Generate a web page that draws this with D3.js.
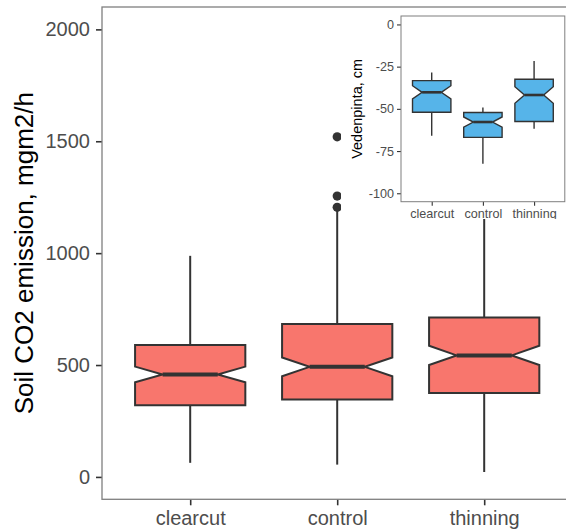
<html>
<head>
  <meta charset="utf-8">
  <style>
  body { margin: 0; background: #fff; }
  svg text { font-family: "Liberation Sans", Arial, Helvetica, sans-serif; }
  </style>
  <script src="https://d3js.org/d3.v7.min.js"></script>
</head>
<body>
  <svg id="chart"></svg>
</body>
  <script>

  var categories = ["clearcut", "control", "thinning"];

  // soil CO2 emission boxplot stats, mgm2/h
  var emLow = [63, 55, 22],
      emQ1 = [320, 346, 375],
      emMed = [458, 492, 543],
      emQ3 = [590, 683, 712],
      emHigh = [988, 1195, 1250],
      emNotch = [35, 42, 43];
  var emOutliers = [[], [1205, 1255, 1520], []];
  var emTicks = [0, 500, 1000, 1500, 2000];

  // water table (vedenpinta) boxplot stats, cm
  var wtLow = [-65.9, -82.5, -61.8],
      wtQ1 = [-52, -66.9, -57.5],
      wtMed = [-40.2, -57.8, -41.8],
      wtQ3 = [-33.3, -52.2, -32.5],
      wtHigh = [-28.4, -49.2, -21.6],
      wtNotch = [3.9, 3, 4.9];
  var wtTicks = [0, -25, -50, -75, -100];

  var width = 566,
      height = 531;

  var svg = d3.select("#chart")
      .attr("width", width)
      .attr("height", height);

  function boxes(g, x, y, st, opt) {
    var bw = x.step() * 0.75;
    var rows = categories.map(function(c, i) {
      return {c: c, lo: st.lo[i], q1: st.q1[i], med: st.med[i], q3: st.q3[i],
              hi: st.hi[i], n: st.notch[i], out: st.out ? st.out[i] : []};
    });
    var grp = g.selectAll("g.box").data(rows).enter().append("g").attr("class", "box");
    grp.append("line")
        .attr("x1", function(d) { return x(d.c); })
        .attr("x2", function(d) { return x(d.c); })
        .attr("y1", function(d) { return y(d.lo); })
        .attr("y2", function(d) { return y(d.hi); })
        .attr("stroke", "#333").attr("stroke-width", opt.lw);
    grp.append("path")
        .attr("d", function(d) {
          var x0 = x(d.c) - bw / 2, x1 = x(d.c) + bw / 2, ni = bw / 4;
          var p = [[x0, y(d.q3)], [x1, y(d.q3)], [x1, y(d.med + d.n)], [x1 - ni, y(d.med)],
                   [x1, y(d.med - d.n)], [x1, y(d.q1)], [x0, y(d.q1)], [x0, y(d.med - d.n)],
                   [x0 + ni, y(d.med)], [x0, y(d.med + d.n)]];
          return "M" + p.join("L") + "Z";
        })
        .attr("fill", opt.fill).attr("stroke", "#333").attr("stroke-width", opt.lw)
        .attr("stroke-linejoin", "miter");
    grp.append("line")
        .attr("x1", function(d) { return x(d.c) - bw / 4; })
        .attr("x2", function(d) { return x(d.c) + bw / 4; })
        .attr("y1", function(d) { return y(d.med); })
        .attr("y2", function(d) { return y(d.med); })
        .attr("stroke", "#333").attr("stroke-width", opt.mw);
    grp.selectAll("circle").data(function(d) { return d.out.map(function(v) { return {c: d.c, v: v}; }); })
      .enter().append("circle")
        .attr("cx", function(d) { return x(d.c); })
        .attr("cy", function(d) { return y(d.v); })
        .attr("r", opt.r).attr("fill", "#333");
  }

  function axes(g, x, y, ticks, box, opt) {
    var ya = g.append("g").attr("transform", "translate(" + box.l + ",0)")
        .call(d3.axisLeft(y).tickValues(ticks).tickFormat(function(d) { return String(d); })
          .tickSize(opt.tick).tickPadding(opt.pad));
    var xa = g.append("g").attr("transform", "translate(0," + box.b + ")")
        .call(d3.axisBottom(x).tickSize(opt.tick).tickPadding(opt.pad));
    [ya, xa].forEach(function(a) {
      a.select(".domain").remove();
      a.selectAll("line").attr("stroke", "#333").attr("stroke-width", opt.tw);
      a.selectAll("text").attr("fill", "#4d4d4d").style("font-size", opt.fs + "px")
        .style("font-family", "'Liberation Sans', Arial, sans-serif");
    });
    g.append("rect")
        .attr("x", box.l).attr("y", box.t)
        .attr("width", box.r - box.l).attr("height", box.b - box.t)
        .attr("fill", "none").attr("stroke", "#7f7f7f").attr("stroke-width", opt.bw);
  }

  // main panel
  var P = {l: 102, t: 7, r: 572.4, b: 499.3};
  var x = d3.scalePoint().domain(categories).range([P.l, P.r]).padding(0.6);
  var y = d3.scaleLinear().domain([-100, 2100]).range([P.b, P.t]);

  var main = svg.append("g");
  boxes(main, x, y, {lo: emLow, q1: emQ1, med: emMed, q3: emQ3, hi: emHigh, notch: emNotch, out: emOutliers},
        {fill: "#F8766D", lw: 2, mw: 4, r: 4.6});
  axes(main, x, y, emTicks, P, {tick: 6, pad: 6, tw: 1.6, fs: 20, bw: 1.3});

  main.append("text")
      .attr("transform", "translate(33," + ((P.t + P.b) / 2) + ") rotate(-90)")
      .attr("text-anchor", "middle")
      .style("font-size", "26px")
      .attr("fill", "#000")
      .text("Soil CO2 emission, mgm2/h");

  // inset
  svg.append("clipPath").attr("id", "insetclip")
    .append("rect").attr("x", 341).attr("y", 9).attr("width", 225).attr("height", 210);
  var inset = svg.append("g").attr("clip-path", "url(#insetclip)");
  inset.append("rect").attr("x", 341).attr("y", 9).attr("width", 225).attr("height", 210).attr("fill", "#fff");

  var I = {l: 401, t: 16, r: 564.8, b: 201.7};
  var xi = d3.scalePoint().domain(categories).range([I.l, I.r]).padding(0.6);
  var yi = d3.scaleLinear().domain([-105, 5]).range([I.b, I.t]);

  boxes(inset, xi, yi, {lo: wtLow, q1: wtQ1, med: wtMed, q3: wtQ3, hi: wtHigh, notch: wtNotch},
        {fill: "#56B4E9", lw: 1.4, mw: 2.6, r: 2});
  axes(inset, xi, yi, wtTicks, I, {tick: 4, pad: 3, tw: 1.1, fs: 12.6, bw: 1});

  inset.append("text")
      .attr("transform", "translate(362," + ((I.t + I.b) / 2) + ") rotate(-90)")
      .attr("text-anchor", "middle")
      .style("font-size", "14.5px")
      .attr("fill", "#000")
      .text("Vedenpinta, cm");

  </script>
</html>
